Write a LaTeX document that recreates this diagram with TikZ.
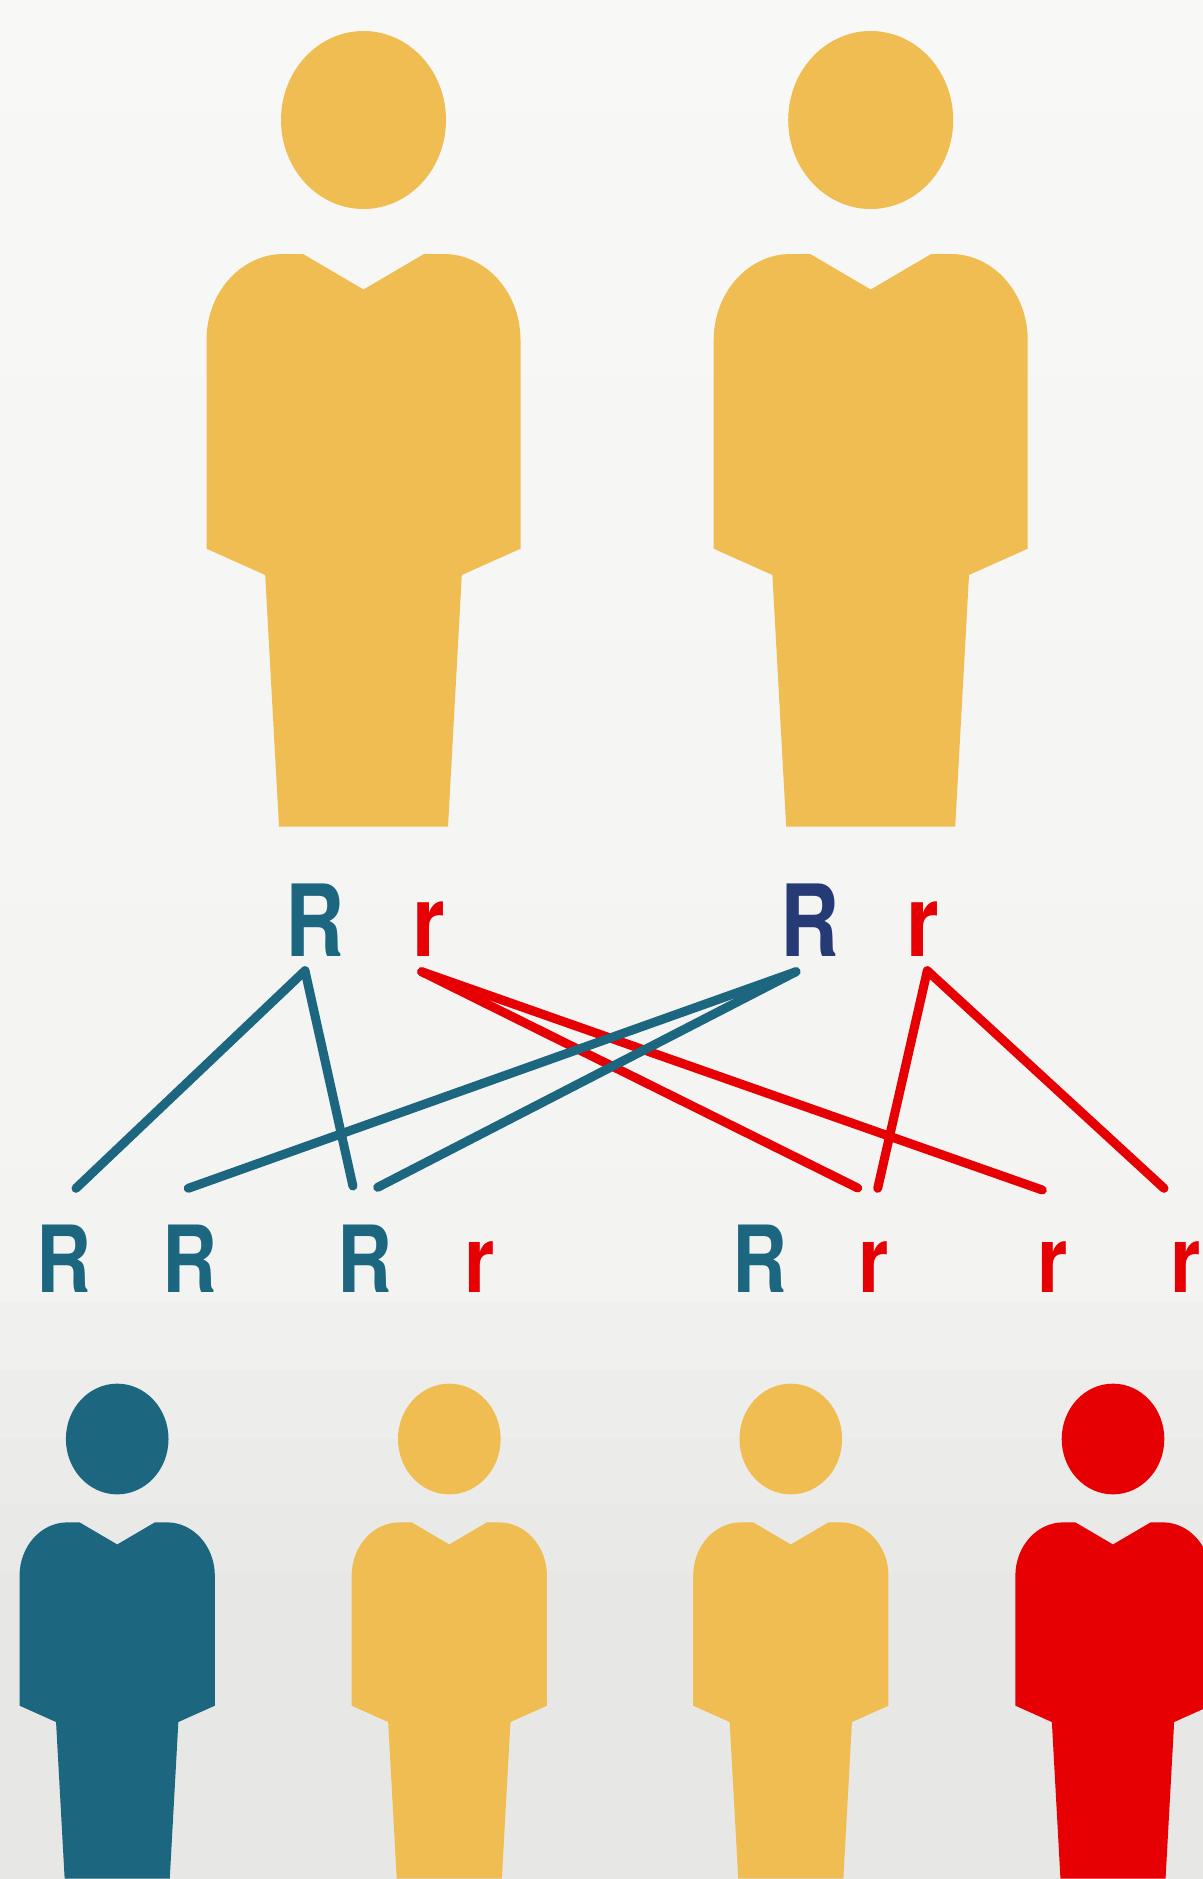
\documentclass[tikz,border=0pt]{standalone}
\usepackage{fontspec}
\setmainfont{TeX Gyre Heros}
\definecolor{pyellow}{HTML}{F0BD52}
\definecolor{pteal}{HTML}{1C6680}
\definecolor{pred}{HTML}{E60004}
\definecolor{pblue}{HTML}{263A75}
\tikzset{
  allele/.style={anchor=base west,inner sep=0pt,outer sep=0pt},
  bigtxt/.style={allele,font=\fontsize{49.8}{50}\selectfont\bfseries},
  smalltxt/.style={allele,font=\fontsize{46.3}{47}\selectfont\bfseries},
  link/.style={line width=4.5pt,line cap=round},
  teal link/.style={link,draw=pteal},
  red link/.style={link,draw=pred}
}
\newcommand{\domR}{\scalebox{.82}[1]{R}}
\newcommand{\recr}{\scalebox{.84}[1]{r}}
% person: x, y of head centre, scale, colour
\newcommand{\person}[4]{%
  \begin{scope}[shift={(#1,#2)},scale=#3]
    \fill[#4] (0,0) ellipse [x radius=82.5,y radius=89];
    \fill[#4] (-157,428.7) -- (-157,220)
      .. controls (-157,172.5) and (-122.5,134) .. (-80,134)
      -- (-60.5,134) -- (0,169.5) -- (60.5,134) -- (80,134)
      .. controls (122.5,134) and (157,172.5) .. (157,220)
      -- (157,428.7) -- (98.3,455) -- (84.5,706.7) -- (-84.5,706.7)
      -- (-98.3,455) -- cycle;
  \end{scope}}
\begin{document}
\begin{tikzpicture}[x=0.5pt,y=-0.5pt]
\useasboundingbox (0,0) rectangle (1203,1879);
\clip (0,0) rectangle (1203,1879);
% banded background
\foreach \ya/\yb/\v in {0/114/248,113/246/247,245/379/247,378/511/246,510/643/246,642/775/245,774/907/245,906/1039/244,1038/1171/244,1170/1303/243,1302/1371/240,1370/1439/237,1438/1506/235,1505/1573/233,1572/1879/231}{
  \pgfmathtruncatemacro{\w}{\v-2}
  \fill[fill={rgb,255:red,\v;green,\v;blue,\w}] (0,\ya) rectangle (1203,\yb);
}
% parents
\person{363.5}{120}{1}{pyellow}
\person{870.7}{120}{1}{pyellow}
% offspring
\person{117.2}{1439}{0.622}{pteal}
\person{449.3}{1439}{0.622}{pyellow}
\person{790.8}{1439}{0.622}{pyellow}
\person{1113}{1439}{0.622}{pred}
% parent alleles
\node[bigtxt,text=pteal] (pa) at (285,956) {\domR};
\node[bigtxt,text=pred]  (pb) at (412.4,956) {\recr};
\node[bigtxt,text=pblue] (pc) at (780,956) {\domR};
\node[bigtxt,text=pred]  (pd) at (906.9,956) {\recr};
% offspring alleles
\node[smalltxt,text=pteal] (o1) at (36.2,1292.7) {\domR};
\node[smalltxt,text=pteal] (o2) at (162.2,1292.7) {\domR};
\node[smalltxt,text=pteal] (o3) at (337.7,1292.7) {\domR};
\node[smalltxt,text=pred]  (o4) at (464,1292.7) {\recr};
\node[smalltxt,text=pteal] (o5) at (732.5,1292.7) {\domR};
\node[smalltxt,text=pred]  (o6) at (858.7,1292.7) {\recr};
\node[smalltxt,text=pred]  (o7) at (1037.7,1292.7) {\recr};
\node[smalltxt,text=pred]  (o8) at (1170.3,1292) {\recr};
% connector ends
\coordinate (a)  at (305,970.7);
\coordinate (b)  at (421.7,971.7);
\coordinate (c)  at (796,971.7);
\coordinate (d)  at (927.3,970.7);
\coordinate (e1) at (76,1188.3);
\coordinate (e2) at (188.3,1188.3);
\coordinate (e3) at (352.9,1186);
\coordinate (e4) at (377.7,1187.3);
\coordinate (e5) at (857.7,1188);
\coordinate (e6) at (877.7,1188.3);
\coordinate (e7) at (1042.3,1190);
\coordinate (e8) at (1164,1188.3);
% connectors
\draw[red link] (b) -- (e5);
\draw[red link] (b) -- (e7);
\draw[red link] (d) -- (e6);
\draw[red link] (d) -- (e8);
\draw[teal link] (a) -- (e1);
\draw[teal link] (a) -- (e3);
\draw[teal link] (c) -- (e2);
\draw[teal link] (c) -- (e4);
\end{tikzpicture}
\end{document}
